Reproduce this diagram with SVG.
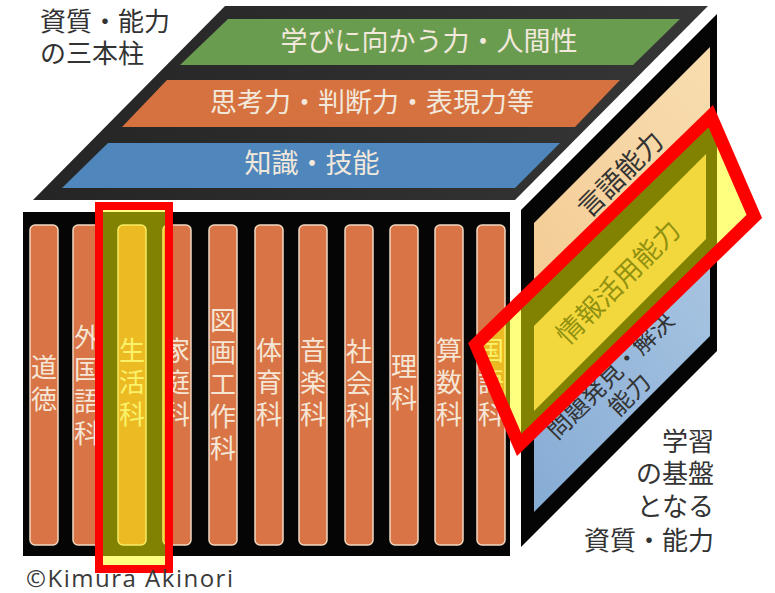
<svg xmlns="http://www.w3.org/2000/svg" width="775" height="593" viewBox="0 0 775 593">
<defs>
<linearGradient id="topg" x1="0" y1="0" x2="1" y2="0">
<stop offset="0" stop-color="#252525"/><stop offset="1" stop-color="#363636"/>
</linearGradient>
<linearGradient id="beige" x1="0.8" y1="0" x2="0.2" y2="1">
<stop offset="0" stop-color="#f8dcae"/><stop offset="1" stop-color="#f3ca92"/>
</linearGradient>
<linearGradient id="blue" x1="0.9" y1="0" x2="0.1" y2="1">
<stop offset="0" stop-color="#aac6e2"/><stop offset="1" stop-color="#88add5"/>
</linearGradient>
<style>
.jp{font-family:"Noto Sans CJK JP","Noto Sans CJK SC",sans-serif;}
.jpc{font-family:"Liberation Sans","Noto Sans CJK JP","Noto Sans CJK SC",sans-serif;}
.band{fill:#f2e8dc;font-size:27px;text-anchor:middle;}
.col{fill:#d87445;stroke:#f0d8c2;stroke-width:1.5;}
.ct{fill:#f5e6d5;font-size:26px;writing-mode:vertical-rl;letter-spacing:6px;}
.dark{fill:#333333;}
.side{text-anchor:middle;}
.hl{fill:#ffff00;fill-opacity:0.5;stroke:#ff0000;stroke-linejoin:miter;}
</style>
</defs>
<rect width="775" height="593" fill="#ffffff"/>

<g id="title-tl" class="jpc dark" font-size="26">
<text x="40" y="31">資質・能力</text>
<text x="40" y="63">の三本柱</text>
</g>

<g id="top-face">
<polygon points="225,6 708,6 515,200 33,200" fill="url(#topg)"/>
<g id="band-green">
<polygon points="228,19 680,19 633,65 180,65" fill="#6a9c50"/>
<text class="jp band" x="429" y="51">学びに向かう力・人間性</text>
</g>
<g id="band-orange">
<polygon points="167,80 620,80 575,127 122,127" fill="#d6723f"/>
<text class="jp band" x="372" y="112">思考力・判断力・表現力等</text>
</g>
<g id="band-blue">
<polygon points="108,143 560,143 515,188 62,188" fill="#4f86bb"/>
<text class="jp band" x="312" y="173">知識・技能</text>
</g>
</g>

<g id="front-face">
<rect x="23" y="212" width="487" height="344" fill="#050505"/>
<g id="col-doutoku"><rect class="col" x="30" y="225" width="28" height="320" rx="5"/>
<text class="jp ct" x="44" y="354">道徳</text></g>
<g id="col-gaikokugo"><rect class="col" x="73" y="225" width="28" height="320" rx="5"/>
<text class="jp ct" x="87" y="324">外国語科</text></g>
<g id="col-seikatsu"><rect class="col" x="118" y="225" width="28" height="320" rx="5"/>
<text class="jp ct" x="132" y="337">生活科</text></g>
<g id="col-katei"><rect class="col" x="163" y="225" width="28" height="320" rx="5"/>
<text class="jp ct" x="177" y="337">家庭科</text></g>
<g id="col-zuga"><rect class="col" x="209" y="225" width="28" height="320" rx="5"/>
<text class="jp ct" x="223" y="307">図画工作科</text></g>
<g id="col-taiiku"><rect class="col" x="255" y="225" width="28" height="320" rx="5"/>
<text class="jp ct" x="269" y="337">体育科</text></g>
<g id="col-ongaku"><rect class="col" x="299" y="225" width="28" height="320" rx="5"/>
<text class="jp ct" x="313" y="337">音楽科</text></g>
<g id="col-shakai"><rect class="col" x="345" y="225" width="28" height="320" rx="5"/>
<text class="jp ct" x="359" y="338">社会科</text></g>
<g id="col-rika"><rect class="col" x="390" y="225" width="28" height="320" rx="5"/>
<text class="jp ct" x="404" y="353">理科</text></g>
<g id="col-sansu"><rect class="col" x="435" y="225" width="28" height="320" rx="5"/>
<text class="jp ct" x="449" y="337">算数科</text></g>
<g id="col-kokugo"><rect class="col" x="477" y="225" width="28" height="320" rx="5"/>
<text class="jp ct" x="491" y="337">国語科</text></g>
</g>

<g id="side-face">
<polygon points="521,210 717,14 717,351 521,547" fill="#050505"/>
<polygon points="534,223 710,47 710,192 534,368" fill="url(#beige)"/>
<polygon points="534,368 710,192 710,336 534,512" fill="url(#blue)"/>
<g id="side-gengo">
<text class="jp side dark" font-size="27" transform="translate(620,174) rotate(-45)" x="0" y="10">言語能力</text>
</g>
<g id="side-mondai">
<g class="jpc side dark" font-size="24" transform="translate(610,375) rotate(-45)">
<text x="0" y="9">問題発見・解決</text>
<text x="0" y="36">能力</text>
</g>
</g>
<g id="side-joho">
<polygon points="534,296 710,120 710,252 534,428" fill="#050505"/>
<polygon points="534,326 706,154 706,239 534,411" fill="#e6b07a"/>
<text class="jp side" fill="#222222" font-size="27" transform="translate(618,282) rotate(-45)" x="0" y="10">情報活用能力</text>
</g>
</g>

<g id="caption-br" class="jpc dark" font-size="26" text-anchor="end">
<text x="714" y="451">学習</text>
<text x="714" y="483">の基盤</text>
<text x="714" y="516">となる</text>
<text x="714" y="550">資質・能力</text>
</g>

<g id="highlights">
<rect class="hl" x="99" y="206" width="70" height="363" stroke-width="8"/>
<polygon class="hl" points="710.8,116.2 754.3,216.5 519.2,444.8 475.8,344.5" stroke-width="13"/>
</g>

<text id="copyright" x="26" y="587" font-family="'Open Sans','Liberation Sans',sans-serif" font-size="24" fill="#3a3a3a" textLength="207">©Kimura Akinori</text>
</svg>
